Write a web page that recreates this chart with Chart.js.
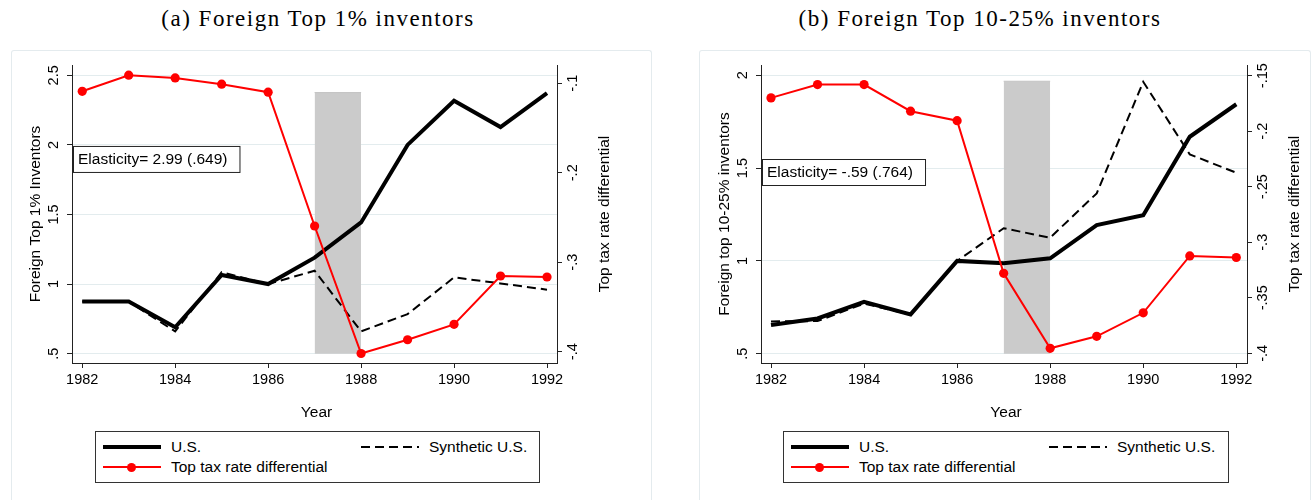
<!DOCTYPE html>
<html>
<head>
<meta charset="utf-8">
<script src="https://cdn.jsdelivr.net/npm/chart.js@4.4.1/dist/chart.umd.min.js"></script>
<style>
  body { margin: 0; background: #fff; width: 1314px; height: 500px; overflow: hidden; position: relative;
         font-family: 'Liberation Sans', Arial, sans-serif; color: #000; }
  .title { position: absolute; top: 6px; font-family: 'Liberation Serif', serif; font-size: 23px;
           letter-spacing: 1.5px; white-space: nowrap; transform: translateX(-50%); }
  .panel { position: absolute; top: 50px; height: 450px; border: 1px solid #e4ebee; border-bottom: none;
           border-radius: 3px 3px 0 0; }
  .panel canvas { position: absolute; left: 0; top: 0; }
  .legend { position: absolute; top: 431px; height: 50px; border: 1px solid #333; background: #fff; font-size: 15.5px; }
  .legend span { position: absolute; line-height: 18px; white-space: nowrap; }
  .legend i { position: absolute; display: block; }
</style>
</head>
<body>
<div class="title" style="left:318px">(a) Foreign Top 1% inventors</div>
<div class="title" style="left:980px">(b) Foreign Top 10-25% inventors</div>

<div class="panel" style="left:11px; width:639px"><canvas id="chartA" width="639" height="449"></canvas></div>
<div class="panel" style="left:699px; width:610px"><canvas id="chartB" width="610" height="449"></canvas></div>

<div class="legend" id="legendA" style="left:95px; width:443px"></div>
<div class="legend" id="legendB" style="left:783px; width:444px"></div>

<script>
// Years and x ticks
const years = [1982, 1983, 1984, 1985, 1986, 1987, 1988, 1989, 1990, 1991, 1992];
const xTicks = [1982, 1984, 1986, 1988, 1990, 1992];
const seriesNames = ['U.S.', 'Synthetic U.S.', 'Top tax rate differential'];
const shadeYears = [1987, 1988];

// (a) Foreign Top 1% inventors
const usTop1 = [0.874, 0.874, 0.69, 1.065, 1.0, 1.19, 1.443, 2.0, 2.317, 2.128, 2.372];
const synthTop1 = [0.874, 0.874, 0.66, 1.085, 1.0, 1.096, 0.66, 0.784, 1.048, 1.005, 0.96];
const taxTop1 = [-0.109, -0.091, -0.094, -0.101, -0.110, -0.2595, -0.402, -0.3866, -0.3694, -0.3154, -0.3165];
const shadeTop1 = [2.376, 2.376];
const yTicksTop1 = [0.5, 1, 1.5, 2, 2.5];
const yLabelsTop1 = ['.5', '1', '1.5', '2', '2.5'];
const taxTicksTop1 = [-0.4, -0.3, -0.2, -0.1];
const taxLabelsTop1 = ['-.4', '-.3', '-.2', '-.1'];

// (b) Foreign Top 10-25% inventors
const usTop25 = [0.655, 0.69, 0.78, 0.712, 1.0, 0.987, 1.014, 1.193, 1.246, 1.669, 1.844];
const synthTop25 = [0.674, 0.676, 0.77, 0.71, 1.0, 1.176, 1.125, 1.364, 1.965, 1.574, 1.475];
const taxTop25 = [-0.170, -0.158, -0.158, -0.182, -0.1905, -0.328, -0.3955, -0.3847, -0.3635, -0.3123, -0.3137];
const shadeTop25 = [1.968, 1.968];
const yTicksTop25 = [0.5, 1, 1.5, 2];
const yLabelsTop25 = ['.5', '1', '1.5', '2'];
const taxTicksTop25 = [-0.4, -0.35, -0.3, -0.25, -0.2, -0.15];
const taxLabelsTop25 = ['-.4', '-.35', '-.3', '-.25', '-.2', '-.15'];

const FONT = "'Liberation Sans', Arial, sans-serif";

function pts(xs, ys) {
    return xs.map((x, i) => ({ x: x, y: ys[i] }));
}

// Stata-like rotated tick labels, axis titles and the elasticity box
const stataText = {
    id: 'stataText',
    afterDraw(chart, args, o) {
        const ctx = chart.ctx;
        const a = chart.chartArea;
        const sy = chart.scales.y, sy1 = chart.scales.y1;
        const midY = (a.top + a.bottom) / 2;
        ctx.save();
        ctx.fillStyle = '#000';
        ctx.textAlign = 'center';
        ctx.textBaseline = 'middle';
        const vtext = (t, x, y) => {
            ctx.save();
            ctx.translate(x, y);
            ctx.rotate(-Math.PI / 2);
            ctx.fillText(t, 0, 0);
            ctx.restore();
        };
        ctx.font = '14.5px ' + FONT;
        o.yTicks.forEach((v, i) => vtext(o.yLabels[i], a.left - 18, sy.getPixelForValue(v)));
        o.taxTicks.forEach((v, i) => vtext(o.taxLabels[i], a.right + 16, sy1.getPixelForValue(v)));

        ctx.font = '15.5px ' + FONT;
        vtext(o.yTitle, a.left - 36, midY);
        vtext(o.taxTitle, a.right + o.taxTitleOffset, midY);
        ctx.fillText('Year', (a.left + a.right) / 2 + 2, a.bottom + 50);

        // elasticity box
        const ey = sy.getPixelForValue(o.elastY);
        const w = ctx.measureText(o.elastText).width + 17;
        ctx.fillStyle = '#fff';
        ctx.fillRect(a.left + 1, ey - 13, w, 26);
        ctx.strokeStyle = '#222';
        ctx.lineWidth = 1;
        ctx.strokeRect(a.left + 1.5, ey - 12.5, w, 26);
        ctx.fillStyle = '#000';
        ctx.textAlign = 'left';
        ctx.fillText(o.elastText, a.left + 6, ey + 1);
        ctx.restore();
    }
};

function makePanel(id, p) {
    const ctx = document.getElementById(id).getContext('2d');
    return new Chart(ctx, {
        type: 'line',
        data: {
            datasets: [
                {
                    label: seriesNames[2],
                    data: pts(years, p.tax),
                    yAxisID: 'y1',
                    borderColor: '#ff0000',
                    backgroundColor: '#ff0000',
                    borderWidth: 2,
                    pointRadius: 4.6,
                    pointBorderWidth: 0,
                    pointBackgroundColor: '#ff0000'
                },
                {
                    label: seriesNames[0],
                    data: pts(years, p.us),
                    yAxisID: 'y',
                    borderColor: '#000',
                    borderWidth: 4,
                    pointRadius: 0
                },
                {
                    label: seriesNames[1],
                    data: pts(years, p.synth),
                    yAxisID: 'y',
                    borderColor: '#000',
                    borderWidth: 2,
                    borderDash: [9, 5],
                    pointRadius: 0
                },
                {
                    label: 'shade',
                    data: pts(shadeYears, p.shade),
                    yAxisID: 'y',
                    borderColor: '#c4c4c4',
                    borderWidth: 1,
                    backgroundColor: '#cbcbcb',
                    fill: { value: 0.5 },
                    pointRadius: 0
                }
            ]
        },
        options: {
            responsive: false,
            devicePixelRatio: 1,
            animation: false,
            layout: { padding: { top: 14, left: 0, right: 0, bottom: 0 } },
            elements: { line: { tension: 0 } },
            scales: {
                x: {
                    type: 'linear',
                    min: p.xMin,
                    max: p.xMax,
                    afterBuildTicks: s => { s.ticks = xTicks.map(v => ({ value: v })); },
                    afterFit: s => { s.height = 137; },
                    ticks: {
                        color: '#000',
                        padding: 3,
                        font: { family: FONT, size: 14.5 },
                        callback: v => String(v)
                    },
                    grid: { drawOnChartArea: false, tickLength: 5, tickColor: '#222' },
                    border: { display: true, color: '#222', width: 1 }
                },
                y: {
                    position: 'left',
                    min: p.yMin,
                    max: p.yMax,
                    afterBuildTicks: s => { s.ticks = p.yTicks.map(v => ({ value: v })); },
                    afterFit: s => { s.width = p.leftW; },
                    ticks: { display: false },
                    grid: { color: '#e3ecee', tickLength: 5, tickColor: '#222' },
                    border: { display: true, color: '#222', width: 1 }
                },
                y1: {
                    position: 'right',
                    min: p.tMin,
                    max: p.tMax,
                    afterBuildTicks: s => { s.ticks = p.taxTicks.map(v => ({ value: v })); },
                    afterFit: s => { s.width = p.rightW; },
                    ticks: { display: false },
                    grid: { drawOnChartArea: false, tickLength: 5, tickColor: '#222' },
                    border: { display: true, color: '#222', width: 1 }
                }
            },
            plugins: {
                legend: { display: false },
                tooltip: { enabled: false },
                stataText: {
                    yTicks: p.yTicks, yLabels: p.yLabels,
                    taxTicks: p.taxTicks, taxLabels: p.taxLabels,
                    yTitle: p.yTitle, taxTitle: 'Top tax rate differential',
                    taxTitleOffset: p.taxTitleOffset,
                    elastText: p.elastText, elastY: p.elastY
                }
            }
        },
        plugins: [stataText]
    });
}

makePanel('chartA', {
    us: usTop1, synth: synthTop1, tax: taxTop1, shade: shadeTop1,
    yTicks: yTicksTop1, yLabels: yLabelsTop1, taxTicks: taxTicksTop1, taxLabels: taxLabelsTop1,
    xMin: 1981.78, xMax: 1992.215, yMin: 0.433, yMax: 2.574, tMin: -0.4126, tMax: -0.0796,
    leftW: 60, rightW: 94, taxTitleOffset: 48,
    yTitle: 'Foreign Top 1% Inventors',
    elastText: 'Elasticity= 2.99 (.649)', elastY: 1.899
});

makePanel('chartB', {
    us: usTop25, synth: synthTop25, tax: taxTop25, shade: shadeTop25,
    yTicks: yTicksTop25, yLabels: yLabelsTop25, taxTicks: taxTicksTop25, taxLabels: taxLabelsTop25,
    xMin: 1981.785, xMax: 1992.23, yMin: 0.45, yMax: 2.0555, tMin: -0.4087, tMax: -0.1404,
    leftW: 61, rightW: 63, taxTitleOffset: 48,
    yTitle: 'Foreign top 10-25% inventors',
    elastText: 'Elasticity= -.59 (.764)', elastY: 1.479
});

// Legends (Stata style box, two columns)
function buildLegend(id) {
    const el = document.getElementById(id);
    el.innerHTML = `
        <i style="left:7px; top:13px; width:58px; height:4px; background:#000"></i>
        <span style="left:75px; top:6px">${seriesNames[0]}</span>
        <i style="left:265px; top:14px; width:58px; height:2px;
           background:repeating-linear-gradient(to right, #000 0 9px, transparent 9px 14px)"></i>
        <span style="left:333px; top:6px">${seriesNames[1]}</span>
        <i style="left:7px; top:34px; width:58px; height:2px; background:#ff0000"></i>
        <i style="left:31px; top:30.5px; width:9px; height:9px; border-radius:50%; background:#ff0000"></i>
        <span style="left:75px; top:26px">${seriesNames[2]}</span>
    `;
}
buildLegend('legendA');
buildLegend('legendB');
</script>
</body>
</html>
